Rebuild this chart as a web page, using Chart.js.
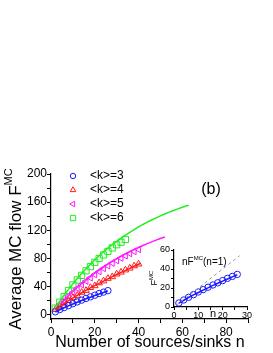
<!DOCTYPE html>
<html><head><meta charset="utf-8">
<script src="https://cdn.jsdelivr.net/npm/chart.js@4/dist/chart.umd.min.js"></script>
<style>
html,body{margin:0;padding:0;background:#fff;}
#wrap{position:relative;width:273px;height:353px;overflow:hidden;}
#main{position:absolute;left:0;top:0;width:273px;height:353px;}
#inset{position:absolute;left:140px;top:240px;width:120px;height:90px;}
</style></head><body>
<div id="wrap">
<canvas id="main" width="273" height="353"></canvas>
<canvas id="inset" width="120" height="90"></canvas>
</div>
<script>
// ---------- data ----------
const legendLabels = ['<k>=3', '<k>=4', '<k>=5', '<k>=6'];

const n3 = [2,4,6,8,10,12,14,16,18,20,22,24,26];
const f3 = [4.2,7.4,10.2,13.0,15.8,18.3,20.8,23.2,25.5,27.8,30.2,32.2,34.3];
const n3Fit = [2,4,6,8,10,12,14,16,18,20,22,24,26];
const f3Fit = [4.0,7.1,10.0,12.7,15.3,17.8,20.2,22.7,25.0,27.3,29.5,31.7,34.0];

const n4 = [2,4,6,8,10,12,14,16,18,20,22,24,26,28,30,32,34,36,38,40];
const f4 = [7.5,12.0,16.5,20.0,24.5,27.5,31.8,34.5,38.6,41.2,45.3,48.0,51.6,54.0,57.8,60.5,63.6,66.2,69.4,72.0];
const n4Fit = [2,4,6,8,10,12,14,16,18,20,22,24,26,28,30,32,34,36,38,40,41];
const f4Fit = [6.7,11.6,16.0,20.1,24.0,27.7,31.3,34.8,38.2,41.5,44.7,47.9,51.1,54.1,57.2,60.2,63.1,66.0,68.9,71.8,73.3];

const n5 = [4,6,8,10,12,14,16,18,20,22,24,26,28,30,32,34,36,38,40];
const f5 = [15.0,20.2,26.5,32.0,37.6,42.8,47.9,52.6,57.2,61.5,65.8,69.6,73.5,77.0,80.6,83.8,87.0,90.0,92.8];
const n5Fit = [4,6,8,10,12,14,16,18,20,22,24,26,28,30,32,34,36,38,40,42,44,46,48,50,52];
const f5Fit = [14.1,20.7,27.0,33.0,38.7,44.1,49.3,54.3,59.0,63.5,67.8,71.9,75.8,79.5,83.0,86.4,89.6,92.7,95.6,98.4,101.1,103.6,106.0,108.4,110.5];

const n6 = [2,4,6,8,10,12,14,16,18,20,22,24,26,28,30,32,34];
const f6 = [9.5,18.0,26.0,34.5,42.5,49.5,56.0,62.5,68.5,74.5,80.0,85.0,90.0,95.0,99.5,103.0,107.0];
const n6Fit = [2,4,6,8,10,12,14,16,18,20,22,24,26,28,30,32,34,36,38,40,42,44,46,48,50,52,54,56,58,60,62,63];
const f6Fit = [9.7,19.0,27.7,36.1,44.0,51.5,58.7,65.4,71.9,78.0,83.8,89.4,94.6,99.6,104.4,108.9,113.2,117.2,121.1,124.8,128.3,131.6,134.7,137.7,140.5,143.2,145.8,148.2,150.5,152.7,154.8,155.8];

const nRef = [1, 27];
const fRef = [2, 54];

const xTicks = [0,10,20,30,40,50,60,70,80,90];
const xTickLabels = [0,20,40,60,80];
const yTicks = [0,20,40,60,80,100,120,140,160,180,200];
const yTickLabels = [0,40,80,120,160,200];

const insetXTicks = [0,5,10,15,20,25,30];
const insetXTickLabels = [0,10,20,30];
const insetYTicks = [0,10,20,30,40,50,60];
const insetYTickLabels = [0,20,40,60];

// ---------- styles ----------
const FONT = '"Liberation Sans", Arial, sans-serif';
const BLUE = '#1a1aff', RED = '#ff1a1a', MAG = '#ff1aff', GREEN = '#22ee22';
const colors = [BLUE, RED, MAG, GREEN];
const styles = [{s:'circle',r:3.2,rot:0},{s:'triangle',r:3.8,rot:0},{s:'triangle',r:3.8,rot:-90},{s:'rect',r:4.4,rot:0}];

const pts = (xs, ys) => xs.map((x, i) => ({x, y: ys[i]}));
function lineDs(xs, ys, c) {
  return {data: pts(xs, ys), showLine: true, borderColor: c, borderWidth: 1.5, pointRadius: 0, fill: false};
}
function markDs(xs, ys, i) {
  return {data: pts(xs, ys), showLine: false, borderColor: colors[i], backgroundColor: 'rgba(0,0,0,0)',
    pointStyle: styles[i].s, pointRadius: styles[i].r, pointRotation: styles[i].rot, pointBorderWidth: 1,
    pointBackgroundColor: 'rgba(0,0,0,0)', pointBorderColor: colors[i]};
}

function axis(min, max, ticks, labels, fontSize, tickLen, pad, fitFn) {
  return {
    type: 'linear', min, max,
    afterBuildTicks: s => { s.ticks = ticks.map(v => ({value: v})); },
    afterFit: fitFn,
    ticks: {callback: v => labels.includes(v) ? String(v) : '', font: {family: FONT, size: fontSize},
      color: '#000', padding: pad, maxRotation: 0, autoSkip: false},
    grid: {drawOnChartArea: false, drawTicks: true, tickLength: tickLen, color: '#000', tickColor: '#000', tickWidth: 1},
    border: {display: true, color: '#000', width: 1.2}
  };
}

function drawSup(ctx, x, y, main, sup, size, supSize, rotate) {
  ctx.save();
  ctx.translate(x, y);
  if (rotate) ctx.rotate(-Math.PI / 2);
  ctx.fillStyle = '#000';
  ctx.textBaseline = 'middle';
  ctx.textAlign = 'left';
  ctx.font = size + 'px ' + FONT;
  const w1 = ctx.measureText(main).width;
  ctx.font = supSize + 'px ' + FONT;
  const w2 = ctx.measureText(sup).width;
  const x0 = -(w1 + w2) / 2;
  ctx.font = size + 'px ' + FONT;
  ctx.fillText(main, x0, 0);
  ctx.font = supSize + 'px ' + FONT;
  ctx.fillText(sup, x0 + w1, -size * 0.4);
  ctx.restore();
}

const mainText = {
  id: 'mainText',
  afterDraw(chart) {
    const ctx = chart.ctx;
    ctx.save();
    ctx.fillStyle = '#000';
    ctx.font = '16px ' + FONT;
    ctx.textAlign = 'center';
    ctx.textBaseline = 'middle';
    ctx.fillText('Number of sources/sinks n', 150, 343);
    ctx.fillText('(b)', 211, 190);
    ctx.restore();
    drawSup(ctx, 16, 249, 'Average MC flow F', 'MC', 17, 11, true);
    // legend
    const rows = [176, 190, 204, 218];
    legendLabels.forEach((lab, i) => {
      ctx.save();
      ctx.strokeStyle = colors[i];
      ctx.fillStyle = 'rgba(0,0,0,0)';
      ctx.lineWidth = 1;
      Chart.helpers.drawPoint(ctx, {pointStyle: styles[i].s, radius: styles[i].r * 0.85, rotation: styles[i].rot, borderWidth: 1}, 73, rows[i]);
      ctx.fillStyle = '#000';
      ctx.font = '12px ' + FONT;
      ctx.textAlign = 'left';
      ctx.textBaseline = 'middle';
      ctx.fillText(lab, 90, rows[i]);
      ctx.restore();
    });
  }
};

new Chart(document.getElementById('main'), {
  type: 'scatter',
  data: {datasets: [
    lineDs(n3Fit, f3Fit, BLUE), lineDs(n4Fit, f4Fit, RED), lineDs(n5Fit, f5Fit, MAG), lineDs(n6Fit, f6Fit, GREEN),
    markDs(n3, f3, 0), markDs(n4, f4, 1), markDs(n5, f5, 2), markDs(n6, f6, 3)
  ]},
  options: {
    responsive: false, animation: false, devicePixelRatio: 1,
    layout: {padding: {top: 174, right: 25, left: 0, bottom: 0}},
    plugins: {legend: {display: false}, tooltip: {enabled: false}},
    scales: {
      x: axis(0, 90, xTicks, xTickLabels, 12, 4, 2, s => { s.height = 34; }),
      y: axis(-6, 200, yTicks, yTickLabels, 12, 4, 0, s => { s.width = 51; })
    }
  },
  plugins: [mainText]
});

const insetText = {
  id: 'insetText',
  afterDraw(chart) {
    const ctx = chart.ctx;
    drawSup(ctx, 15, 38, 'F', 'MC', 9, 6, true);
    ctx.save();
    ctx.fillStyle = '#000';
    ctx.font = '11px ' + FONT;
    ctx.textAlign = 'center';
    ctx.textBaseline = 'middle';
    ctx.fillText('n', 73, 74);
    ctx.restore();
    ctx.save();
    ctx.fillStyle = '#000';
    ctx.textBaseline = 'middle';
    ctx.font = '10px ' + FONT;
    const a = 'nF', b = 'MC', c = '(n=1)';
    let x = 42, y = 22;
    ctx.fillText(a, x, y); x += ctx.measureText(a).width;
    ctx.font = '6px ' + FONT; ctx.fillText(b, x, y - 4); x += ctx.measureText(b).width;
    ctx.font = '10px ' + FONT; ctx.fillText(c, x, y);
    ctx.restore();
  }
};

new Chart(document.getElementById('inset'), {
  type: 'scatter',
  data: {datasets: [
    {data: pts(nRef, fRef), showLine: true, borderColor: '#999', borderWidth: 1, borderDash: [3, 3], pointRadius: 0},
    lineDs(n3Fit, f3Fit, BLUE),
    markDs(n3, f3, 0)
  ]},
  options: {
    responsive: false, animation: false, devicePixelRatio: 1,
    layout: {padding: {top: 10, right: 13, left: 0, bottom: 0}},
    plugins: {legend: {display: false}, tooltip: {enabled: false}},
    scales: {
      x: axis(0, 30, insetXTicks, insetXTickLabels, 9, 3, 0, s => { s.height = 23; }),
      y: axis(0, 60, insetYTicks, insetYTickLabels, 9, 3, 1, s => { s.width = 34; })
    }
  },
  plugins: [insetText]
});
</script>
</body></html>
